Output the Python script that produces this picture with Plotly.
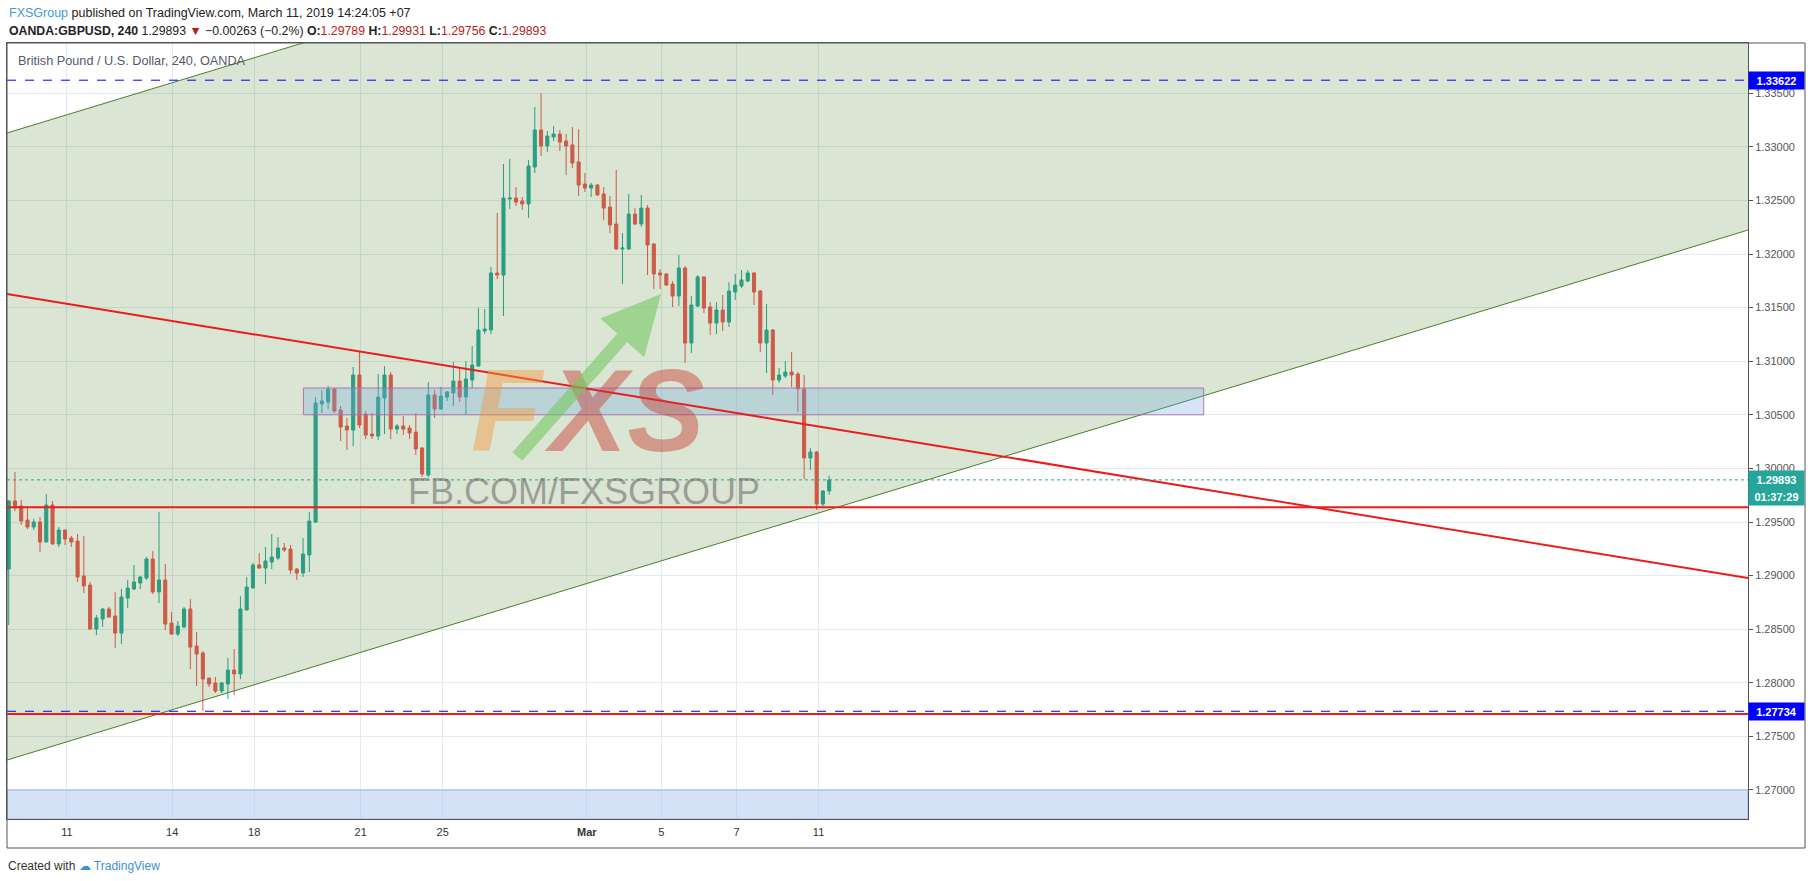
import plotly.graph_objects as go

# OANDA:GBPUSD 4h candles, 7 Feb - 11 Mar 2019 (x = candle number)
candle_open = [1.29061, 1.29696, 1.29649, 1.29518, 1.29453, 1.29500, 1.29313, 1.29658, 1.29295, 1.29425,
               1.29350, 1.29322, 1.28996, 1.28912, 1.28501, 1.28595, 1.28688, 1.28623, 1.28464, 1.28791,
               1.28875, 1.28931, 1.28977, 1.29155, 1.28847, 1.28959, 1.28557, 1.28455, 1.28520, 1.28688,
               1.28343, 1.28278, 1.28044, 1.27998, 1.27923, 1.27988, 1.28119, 1.28082, 1.28679, 1.28884,
               1.29099, 1.29071, 1.29127, 1.29164, 1.29257, 1.29248, 1.29061, 1.29024, 1.29192, 1.29500,
               1.30601, 1.30619, 1.30741, 1.30545, 1.30395, 1.30358, 1.30871, 1.30507, 1.30321, 1.30302,
               1.30657, 1.30871, 1.30367, 1.30395, 1.30377, 1.30339, 1.30190, 1.29938, 1.30685, 1.30554,
               1.30666, 1.30703, 1.30815, 1.30666, 1.30825, 1.30955, 1.31282, 1.31291, 1.31823, 1.31804,
               1.32513, 1.32523, 1.32495, 1.32467, 1.32812, 1.33157, 1.33008, 1.33092, 1.33120, 1.33055,
               1.33017, 1.32859, 1.32653, 1.32616, 1.32644, 1.32560, 1.32439, 1.32280, 1.32047, 1.32047,
               1.32373, 1.32280, 1.32429, 1.32093, 1.31823, 1.31814, 1.31720, 1.31608, 1.31870, 1.31170,
               1.31515, 1.31786, 1.31506, 1.31356, 1.31478, 1.31366, 1.31646, 1.31702, 1.31748, 1.31823,
               1.31655, 1.31170, 1.31291, 1.30825, 1.30862, 1.30899, 1.30881, 1.30741, 1.30097, 1.30153,
               1.29668, 1.29789]
candle_high = [1.29705, 1.29966, 1.29705, 1.29640, 1.29528, 1.29546, 1.29761, 1.29696, 1.29453, 1.29428,
               1.29369, 1.29388, 1.29369, 1.28940, 1.28632, 1.28697, 1.28707, 1.28847, 1.28875, 1.28959,
               1.29099, 1.28996, 1.29173, 1.29229, 1.29593, 1.29108, 1.28660, 1.28576, 1.28707, 1.28781,
               1.28473, 1.28296, 1.28044, 1.28054, 1.28007, 1.28231, 1.28315, 1.28809, 1.28987, 1.29117,
               1.29211, 1.29267, 1.29388, 1.29360, 1.29304, 1.29285, 1.29071, 1.29350, 1.29593, 1.30666,
               1.30731, 1.30769, 1.30750, 1.30582, 1.30470, 1.30946, 1.31095, 1.30535, 1.30517, 1.30881,
               1.30955, 1.30899, 1.30414, 1.30489, 1.30405, 1.30517, 1.30200, 1.30806, 1.30731, 1.30759,
               1.30722, 1.30993, 1.30946, 1.31002, 1.31142, 1.31496, 1.31487, 1.31879, 1.32383, 1.32840,
               1.32887, 1.32625, 1.32532, 1.32877, 1.33372, 1.33502, 1.33148, 1.33194, 1.33157, 1.33120,
               1.33185, 1.33166, 1.32756, 1.32663, 1.32653, 1.32625, 1.32541, 1.32784, 1.32196, 1.32560,
               1.32429, 1.32551, 1.32457, 1.32103, 1.31860, 1.31823, 1.31748, 1.31991, 1.31888, 1.31608,
               1.31804, 1.31795, 1.31552, 1.31552, 1.31618, 1.31739, 1.31814, 1.31851, 1.31851, 1.31832,
               1.31664, 1.31534, 1.31300, 1.30937, 1.31002, 1.31086, 1.30899, 1.30871, 1.30190, 1.30162,
               1.29798, 1.29931]
candle_low = [1.28539, 1.29602, 1.29472, 1.29434, 1.29425, 1.29220, 1.29310, 1.29290, 1.29267, 1.29285,
              1.29267, 1.28940, 1.28837, 1.28498, 1.28445, 1.28520, 1.28604, 1.28324, 1.28362, 1.28697,
              1.28865, 1.28875, 1.28959, 1.28828, 1.28744, 1.28492, 1.28445, 1.28436, 1.28510, 1.28128,
              1.27970, 1.27734, 1.27960, 1.27904, 1.27904, 1.27848, 1.27886, 1.28035, 1.28675, 1.28880,
              1.29061, 1.28921, 1.29061, 1.29145, 1.29220, 1.29015, 1.28959, 1.28987, 1.29033, 1.29490,
              1.30517, 1.30554, 1.30517, 1.30256, 1.30172, 1.30209, 1.30377, 1.30274, 1.30274, 1.30265,
              1.30321, 1.30274, 1.30321, 1.30311, 1.30274, 1.30125, 1.29920, 1.29920, 1.30470, 1.30545,
              1.30629, 1.30582, 1.30619, 1.30507, 1.30750, 1.30950, 1.31254, 1.31254, 1.31767, 1.31422,
              1.32420, 1.32448, 1.32411, 1.32336, 1.32756, 1.32915, 1.32952, 1.33055, 1.32961, 1.32737,
              1.32803, 1.32541, 1.32579, 1.32532, 1.32541, 1.32317, 1.32196, 1.32038, 1.31720, 1.32038,
              1.32271, 1.32252, 1.31804, 1.31674, 1.31674, 1.31702, 1.31506, 1.31515, 1.30983, 1.31077,
              1.31506, 1.31450, 1.31244, 1.31254, 1.31282, 1.31319, 1.31571, 1.31683, 1.31739, 1.31524,
              1.31086, 1.30890, 1.30685, 1.30797, 1.30843, 1.30759, 1.30526, 1.29901, 1.29985, 1.29612,
              1.29649, 1.29756]
candle_close = [1.29696, 1.29630, 1.29509, 1.29453, 1.29500, 1.29313, 1.29658, 1.29295, 1.29425, 1.29341,
                1.29313, 1.28987, 1.28903, 1.28501, 1.28604, 1.28688, 1.28613, 1.28464, 1.28800, 1.28884,
                1.28940, 1.28987, 1.29155, 1.28847, 1.28959, 1.28548, 1.28455, 1.28529, 1.28688, 1.28333,
                1.28268, 1.28035, 1.27988, 1.27923, 1.27998, 1.28119, 1.28082, 1.28688, 1.28893, 1.29099,
                1.29071, 1.29136, 1.29173, 1.29257, 1.29239, 1.29052, 1.29024, 1.29201, 1.29509, 1.30610,
                1.30629, 1.30741, 1.30535, 1.30386, 1.30358, 1.30871, 1.30405, 1.30311, 1.30302, 1.30666,
                1.30871, 1.30367, 1.30395, 1.30367, 1.30330, 1.30181, 1.29948, 1.30685, 1.30554, 1.30675,
                1.30713, 1.30815, 1.30666, 1.30834, 1.30965, 1.31291, 1.31300, 1.31823, 1.31804, 1.32523,
                1.32523, 1.32485, 1.32467, 1.32821, 1.33157, 1.33008, 1.33101, 1.33120, 1.33045, 1.33008,
                1.32849, 1.32644, 1.32616, 1.32644, 1.32551, 1.32429, 1.32271, 1.32047, 1.32056, 1.32373,
                1.32280, 1.32429, 1.32084, 1.31814, 1.31804, 1.31711, 1.31608, 1.31870, 1.31170, 1.31524,
                1.31786, 1.31496, 1.31356, 1.31478, 1.31366, 1.31655, 1.31711, 1.31758, 1.31823, 1.31646,
                1.31170, 1.31291, 1.30825, 1.30871, 1.30899, 1.30871, 1.30741, 1.30097, 1.30153, 1.29668,
                1.29789, 1.29893]
candle_idx = list(range(len(candle_open)))

# day separators on the time axis
day_ticks = [9.3, 26.1, 39.2, 56.2, 69.3, 92.3, 104.2, 116.2, 129.3]
day_labels = ["11", "14", "18", "21", "25", "<b>Mar</b>", "5", "7", "11"]

# drawings on the chart (end points at left / right edge of the view)
x_span = [-0.27, 277.7]
y_span = [1.26729, 1.33969]
channel_low = [1.27279, 1.32224]
channel_high = [1.33129, 1.38074]
red_trend = [1.31627, 1.28977]
red_support = 1.29637
red_bottom = 1.27708
dash_high = 1.33622
dash_low = 1.27734
last_price = 1.29893
zone_x = [47.06, 190.8]
zone_y = [1.3050, 1.3075]
band_top = 1.2700

TEAL = '#26a69a'
RED = '#ef5350'
FONT = 'Liberation Sans, Arial, sans-serif'


def px(x):
    return (x - 7) / 1741


def py(y):
    return (819 - y) / 776


fig = go.Figure()

fig.add_trace(go.Candlestick(
    x=candle_idx, open=candle_open, high=candle_high, low=candle_low, close=candle_close,
    increasing=dict(line=dict(color=TEAL, width=1), fillcolor=TEAL),
    decreasing=dict(line=dict(color=RED, width=1), fillcolor=RED),
    showlegend=False, hoverinfo='skip'))

# green parallel channel
fig.add_trace(go.Scatter(
    x=[x_span[0], x_span[1], x_span[1], x_span[0]],
    y=[channel_low[0], channel_low[1], channel_high[1], channel_high[0]],
    fill='toself', fillcolor='rgba(70,125,35,0.2)', mode='lines',
    line=dict(width=0), showlegend=False, hoverinfo='skip'))
for ch in [channel_low, channel_high]:
    fig.add_trace(go.Scatter(x=x_span, y=ch, mode='lines',
                             line=dict(color='rgb(72,128,40)', width=1),
                             showlegend=False, hoverinfo='skip'))

# resistance zone
fig.add_trace(go.Scatter(
    x=[zone_x[0], zone_x[1], zone_x[1], zone_x[0], zone_x[0]],
    y=[zone_y[0], zone_y[0], zone_y[1], zone_y[1], zone_y[0]],
    fill='toself', fillcolor='rgba(110,170,225,0.3)', mode='lines',
    line=dict(color='rgba(175,105,175,0.9)', width=1), showlegend=False, hoverinfo='skip'))

# bottom band
fig.add_trace(go.Scatter(
    x=[x_span[0], x_span[1], x_span[1], x_span[0], x_span[0]],
    y=[y_span[0], y_span[0], band_top, band_top, y_span[0]],
    fill='toself', fillcolor='rgba(178,200,240,0.55)', mode='lines',
    line=dict(color='rgba(150,175,230,0.9)', width=1), showlegend=False, hoverinfo='skip'))

# red lines
for ys in [red_trend, [red_support, red_support], [red_bottom, red_bottom]]:
    fig.add_trace(go.Scatter(x=x_span, y=ys, mode='lines',
                             line=dict(color='rgb(236,28,28)', width=2),
                             showlegend=False, hoverinfo='skip'))

# dashed extremes and last price
for lv in [dash_high, dash_low]:
    fig.add_trace(go.Scatter(x=x_span, y=[lv, lv], mode='lines',
                             line=dict(color='#0000ff', width=1, dash='dash'),
                             showlegend=False, hoverinfo='skip'))
fig.add_trace(go.Scatter(x=x_span, y=[last_price, last_price], mode='lines',
                         line=dict(color=TEAL, width=1, dash='dot'),
                         showlegend=False, hoverinfo='skip'))

annotations = [
    dict(x=0, y=py(13.3), xref='paper', yref='paper', xanchor='left', yanchor='middle', showarrow=False,
         text="<span style='color:#3d9ae0'>FXSGroup</span> published on TradingView.com, March 11, 2019 14:24:05 +07",
         font=dict(family=FONT, size=12.5, color='#222')),
    dict(x=0, y=py(30.7), xref='paper', yref='paper', xanchor='left', yanchor='middle', showarrow=False,
         text="<b>OANDA:GBPUSD, 240</b> 1.29893 <span style='color:#b71c1c'>▼</span> −0.00263 (−0.2%) "
              "<b>O:</b><span style='color:#b71c1c'>1.29789</span> <b>H:</b><span style='color:#b71c1c'>1.29931</span> "
              "<b>L:</b><span style='color:#b71c1c'>1.29756</span> <b>C:</b><span style='color:#b71c1c'>1.29893</span>",
         font=dict(family=FONT, size=12.3, color='#222')),
    dict(x=px(15.6), y=py(61), xref='paper', yref='paper', xanchor='left', yanchor='middle', showarrow=False,
         text="British Pound / U.S. Dollar, 240, OANDA", font=dict(family=FONT, size=12.7, color='#555a66')),
    dict(x=px(6), y=py(866), xref='paper', yref='paper', xanchor='left', yanchor='middle', showarrow=False,
         text="Created with <span style='color:#3d8fd6'>☁ TradingView</span>",
         font=dict(family=FONT, size=12, color='#333')),
    # FXS watermark
    dict(x=px(508), y=py(411), xref='paper', yref='paper', xanchor='center', yanchor='middle', showarrow=False,
         text="<b><i>F</i></b>", font=dict(family=FONT, size=116, color='rgba(245,150,60,0.45)')),
    dict(x=px(624), y=py(411), xref='paper', yref='paper', xanchor='center', yanchor='middle', showarrow=False,
         text="<b><i>XS</i></b>", font=dict(family=FONT, size=116, color='rgba(200,60,50,0.45)')),
    dict(x=px(661), y=py(294), xref='paper', yref='paper', showarrow=True, text='',
         ax=-145, ay=164, arrowhead=2, arrowsize=0.9, arrowwidth=13,
         arrowcolor='rgba(120,200,100,0.6)'),
    dict(x=px(584), y=py(492), xref='paper', yref='paper', xanchor='center', yanchor='middle', showarrow=False,
         text="FB.COM/FXSGROUP", font=dict(family=FONT, size=36, color='rgba(90,90,90,0.5)')),
]

# price axis markers
for lv, col, shift, txt in [(dash_high, '#0000ff', 0, f"{dash_high:.5f}"),
                            (dash_low, '#0000ff', 0, f"{dash_low:.5f}"),
                            (last_price, TEAL, 0, f"{last_price:.5f}"),
                            (last_price, TEAL, -17, "01:37:29")]:
    annotations.append(dict(x=1, y=lv, xref='paper', yref='y', xanchor='left', yanchor='middle',
                            yshift=shift, showarrow=False, text=f"<b>{txt}</b>", bgcolor=col,
                            width=53, height=15, align='center', borderpad=1,
                            font=dict(family=FONT, size=11, color='white')))

fig.update_layout(
    width=1812, height=881,
    margin=dict(l=7, r=64, t=43, b=62),
    paper_bgcolor='white', plot_bgcolor='white',
    showlegend=False,
    annotations=annotations,
    shapes=[dict(type='rect', xref='paper', yref='paper', x0=0, x1=px(1805), y0=py(848), y1=1,
                 line=dict(color='#555', width=1))],
    xaxis=dict(range=x_span, rangeslider=dict(visible=False), tickvals=day_ticks, ticktext=day_labels,
               showgrid=True, gridcolor='#e1ecf2', zeroline=False, showline=True, mirror=True,
               linecolor='#555', ticks='outside', ticklen=3, tickcolor='rgba(0,0,0,0)',
               tickfont=dict(family=FONT, size=11, color='#333')),
    yaxis=dict(range=y_span, side='right', tick0=1.27, dtick=0.005, tickformat='.5f',
               showgrid=True, gridcolor='#e1ecf2', zeroline=False, showline=True, mirror=True,
               linecolor='#555', ticks='outside', ticklen=4, tickcolor='#555',
               tickfont=dict(family=FONT, size=11, color='#555')),
)

# the page puts the figure flush with the window corner
fig.write_html("out.html", config={'displayModeBar': False},
               post_script="document.body.style.margin = '0';")
